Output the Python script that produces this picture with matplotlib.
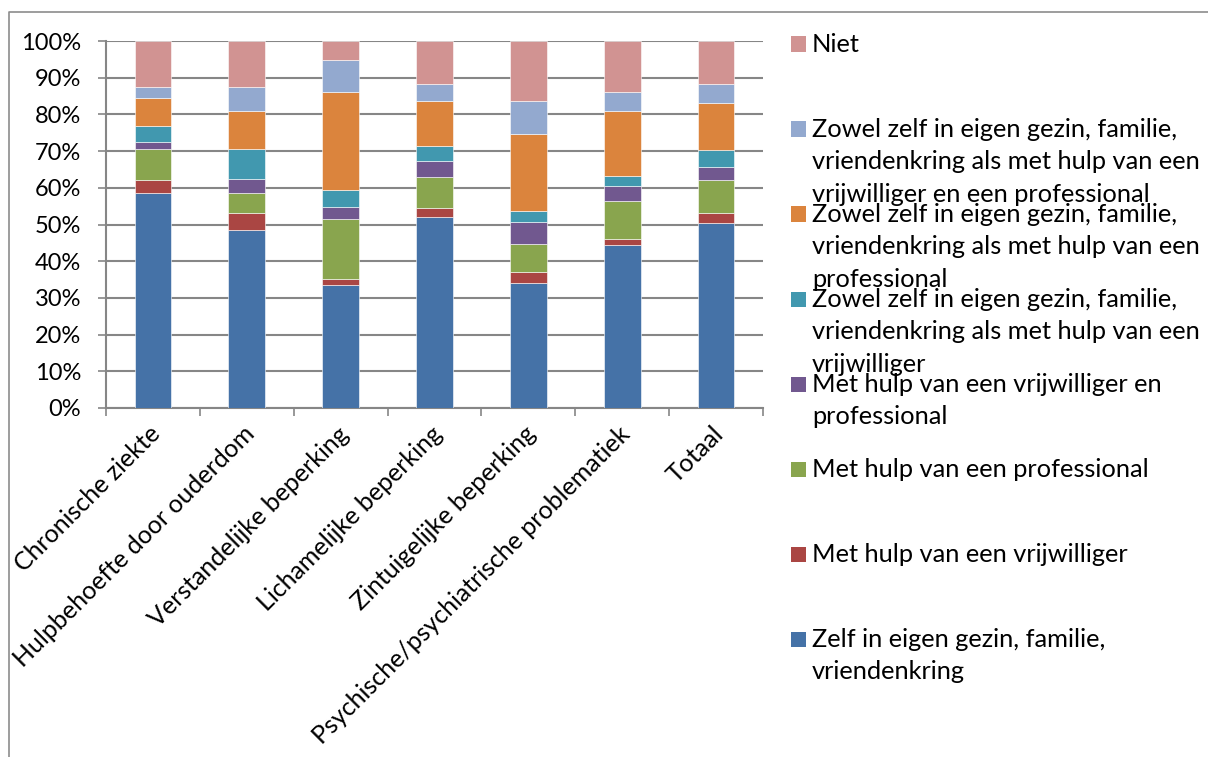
import matplotlib
matplotlib.use("Agg")
import matplotlib.pyplot as plt
from matplotlib.patches import Rectangle
from matplotlib.lines import Line2D
import matplotlib.transforms as mtransforms
import numpy as np

categories = ["Chronische ziekte", "Hulpbehoefte door ouderdom", "Verstandelijke beperking",
              "Lichamelijke beperking", "Zintuigelijke beperking",
              "Psychische/psychiatrische problematiek", "Totaal"]

series_names = [
    "Zelf in eigen gezin, familie,\nvriendenkring",
    "Met hulp van een vrijwilliger",
    "Met hulp van een professional",
    "Met hulp van een vrijwilliger en\nprofessional",
    "Zowel zelf in eigen gezin, familie,\nvriendenkring als met hulp van een\nvrijwilliger",
    "Zowel zelf in eigen gezin, familie,\nvriendenkring als met hulp van een\nprofessional",
    "Zowel zelf in eigen gezin, familie,\nvriendenkring als met hulp van een\nvrijwilliger en een professional",
    "Niet",
]

zelf = [58.7, 48.5, 33.5, 52.1, 34.1, 44.5, 50.3]
vrijwilliger = [3.4, 4.7, 1.6, 2.4, 3.0, 1.6, 2.8]
professional = [8.4, 5.4, 16.4, 8.4, 7.7, 10.4, 9.0]
vrijw_prof = [2.0, 3.9, 3.4, 4.3, 5.9, 3.9, 3.5]
zelf_vrijw = [4.4, 8.0, 4.6, 4.3, 3.0, 2.8, 4.7]
zelf_prof = [7.6, 10.3, 26.7, 12.1, 20.9, 17.6, 12.9]
zelf_vrijw_prof = [3.1, 6.7, 8.6, 4.6, 9.0, 5.2, 5.1]
niet = [12.4, 12.5, 5.2, 11.8, 16.4, 14.0, 11.7]

series_values = [zelf, vrijwilliger, professional, vrijw_prof, zelf_vrijw, zelf_prof, zelf_vrijw_prof, niet]
colors = ["#4572A7", "#AA4643", "#89A54E", "#71588F", "#4198AF", "#DB843D", "#93A9CF", "#D19392"]

ytick_labels = ["0%", "10%", "20%", "30%", "40%", "50%", "60%", "70%", "80%", "90%", "100%"]

plt.rcParams['font.family'] = ['Lato', 'DejaVu Sans']
FS_X = 18
FS_Y = 17
FS_LEG = 18.3

W, H = 1208, 757
fig = plt.figure(figsize=(W / 100, H / 100), dpi=100)

def fx(px):
    return px / W

def fy(py):
    return 1 - py / H

ax = fig.add_axes([fx(106), fy(408), fx(763) - fx(106), fy(41) - fy(408)])

x = np.arange(len(categories))
bottom = np.zeros(len(categories))
for vals, col in zip(series_values, colors):
    vals = np.array(vals)
    ax.bar(x, vals, width=0.39, bottom=bottom, color=col, edgecolor="white", linewidth=0.4, zorder=3)
    bottom += vals

ax.set_xlim(-0.5, len(categories) - 0.5)
ax.set_ylim(0, 100)
ax.set_yticks(np.arange(0, 101, 10))
ax.set_yticklabels(ytick_labels, fontsize=FS_Y)
ax.yaxis.grid(True, color="#868686", linewidth=1.5, zorder=0)
ax.tick_params(axis="y", length=6, width=1.2, color="#868686", pad=12, direction="out")

ax.set_xticks(x)
ax.set_xticklabels(categories, fontsize=FS_X, rotation=45, ha="right", va="center", rotation_mode="anchor")
ax.set_xticks(np.arange(-0.5, len(categories), 1.0), minor=True)
ax.tick_params(axis="x", which="major", length=0, pad=16)
ax.tick_params(axis="x", which="minor", length=6, width=1.2, color="#868686", direction="out")
offset = mtransforms.ScaledTranslation(4 / 100, 0, fig.dpi_scale_trans)
for lbl in ax.get_xticklabels():
    lbl.set_transform(lbl.get_transform() + offset)

for s in ["top", "right"]:
    ax.spines[s].set_visible(False)
for s in ["left", "bottom"]:
    ax.spines[s].set_color("#868686")
    ax.spines[s].set_linewidth(1.5)

# chart area border
fig.add_artist(Line2D([fx(9), fx(9), fx(1208)], [fy(757), fy(12), fy(12)],
                      color="#8c8c8c", linewidth=1.2))

# legend (manual, Excel-like)
marker_y = [639, 554, 469, 384, 299, 214, 129, 44]
line_gap = 32.5
for name, col, my in zip(series_names, colors, marker_y):
    fig.add_artist(Rectangle((fx(791), fy(my + 7.5)), fx(15), 15 / H, transform=fig.transFigure,
                             facecolor=col, edgecolor="none"))
    for k, line in enumerate(name.split("\n")):
        fig.text(fx(812), fy(my + 7.7 + k * line_gap), line, fontsize=FS_LEG, va="baseline", ha="left")

fig.savefig("out.png", dpi=100)
